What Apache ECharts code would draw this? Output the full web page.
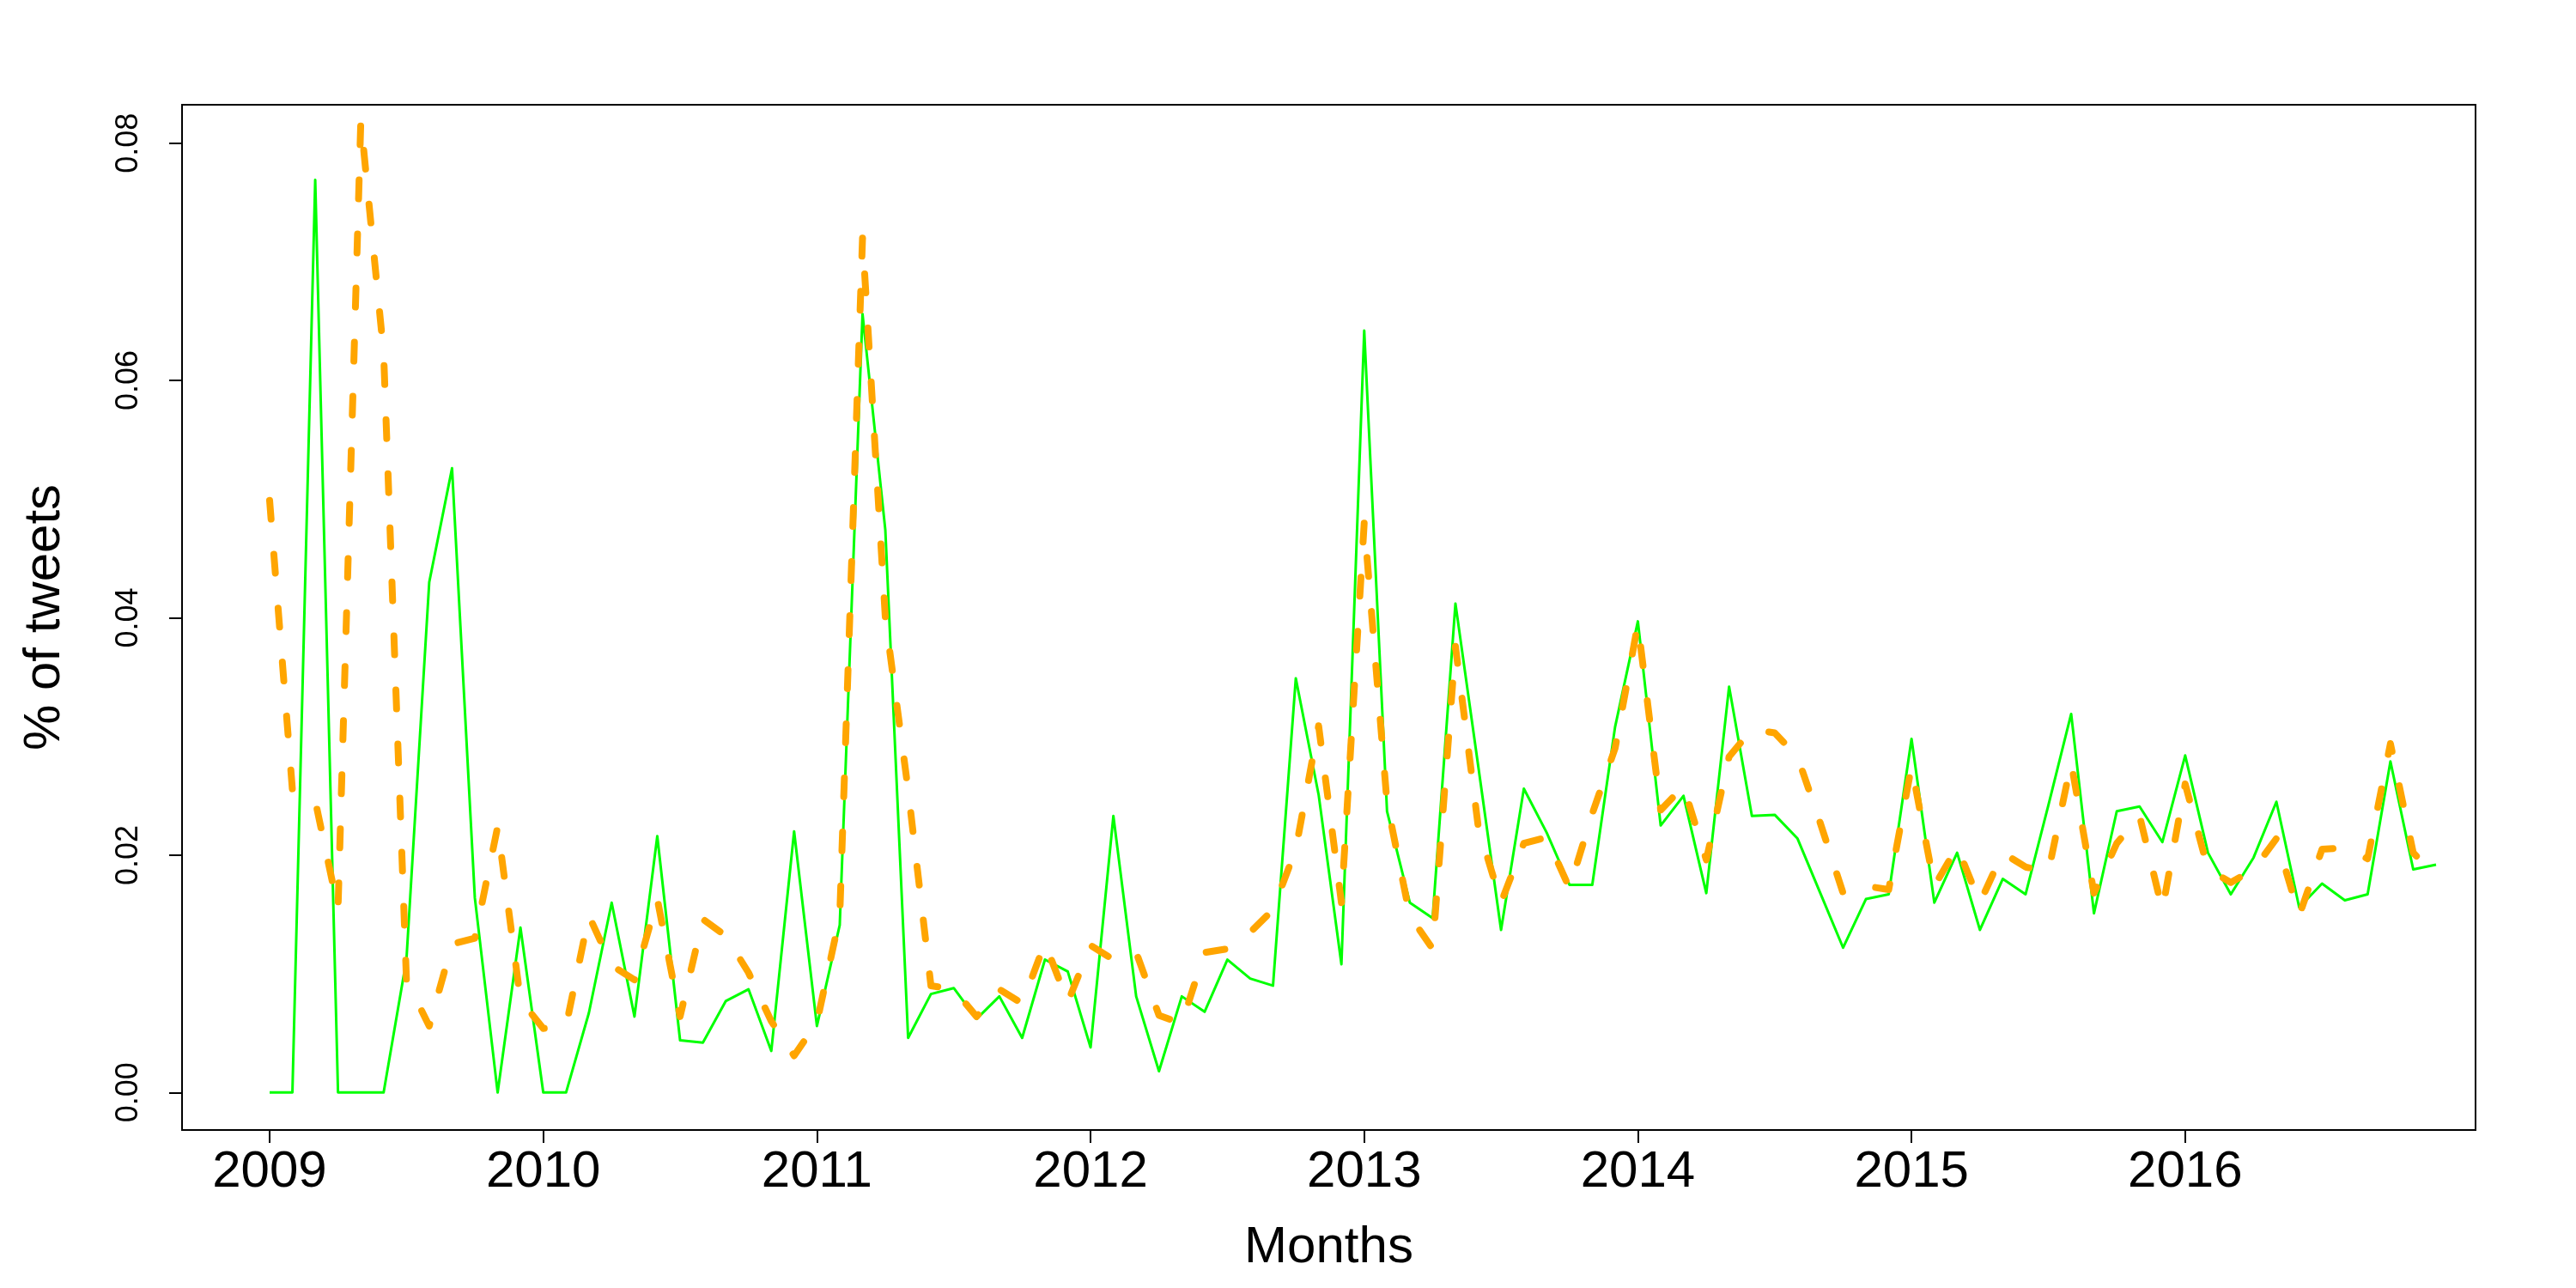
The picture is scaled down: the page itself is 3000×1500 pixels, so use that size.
<!DOCTYPE html>
<html>
<head>
<meta charset="utf-8">
<script src="https://cdn.jsdelivr.net/npm/echarts@6/dist/echarts.min.js"></script>
<style>
  html, body { margin: 0; padding: 0; background: #fff; }
  #main_echart { width: 3000px; height: 1500px; }
</style>
</head>
<body>
<div id="main_echart"></div>
<script>
// monthly values, Jan 2009 .. Dec 2016
var startYear = 2009;
var greenShare = [
    0, 0, 0.0769, 0, 0, 0, 0.0112, 0.0430, 0.0526, 0.0164, 0, 0.0139,
    0, 0, 0.0067, 0.0160, 0.0064, 0.0216, 0.0044, 0.0042, 0.0077, 0.0087, 0.0035, 0.0220,
    0.0056, 0.0141, 0.0656, 0.0474, 0.0046, 0.0083, 0.0088, 0.0062, 0.0081, 0.0046, 0.0112, 0.0102,
    0.0038, 0.0233, 0.0081, 0.0018, 0.0081, 0.0068, 0.0112, 0.0096, 0.0090, 0.0349, 0.0251, 0.0108,
    0.0642, 0.0237, 0.0160, 0.0147, 0.0412, 0.0275, 0.0137, 0.0256, 0.0219, 0.0175, 0.0175, 0.0308,
    0.0397, 0.0225, 0.0250, 0.0168, 0.0342, 0.0233, 0.0234, 0.0214, 0.0168, 0.0122, 0.0163, 0.0167,
    0.0298, 0.0160, 0.0202, 0.0137, 0.0180, 0.0167, 0.0242, 0.0319, 0.0151, 0.0237, 0.0241, 0.0211,
    0.0284, 0.0202, 0.0167, 0.0198, 0.0245, 0.0156, 0.0176, 0.0162, 0.0167, 0.0279, 0.0188, 0.0192
];
var orangeShare = [
    0.0499, 0.0255, 0.0246, 0.0155, 0.0819, 0.0623, 0.0095, 0.0056, 0.0125, 0.0130, 0.0224, 0.0078,
    0.0054, 0.0056, 0.0149, 0.0107, 0.0095, 0.0163, 0.0064, 0.0146, 0.0132, 0.0101, 0.0060, 0.0031,
    0.0059, 0.0148, 0.0720, 0.0400, 0.0255, 0.0090, 0.0087, 0.0064, 0.0087, 0.0075, 0.0126, 0.0076,
    0.0124, 0.0112, 0.0118, 0.0065, 0.0058, 0.0118, 0.0121, 0.0135, 0.0154, 0.0205, 0.0309, 0.0160,
    0.0480, 0.0244, 0.0149, 0.0121, 0.0376, 0.0224, 0.0160, 0.0210, 0.0215, 0.0172, 0.0235, 0.0290,
    0.0395, 0.0238, 0.0258, 0.0196, 0.0283, 0.0306, 0.0303, 0.0283, 0.0227, 0.0168, 0.0174, 0.0171,
    0.0275, 0.0174, 0.0207, 0.0160, 0.0202, 0.0190, 0.0186, 0.0278, 0.0168, 0.0210, 0.0233, 0.0154,
    0.0260, 0.0188, 0.0177, 0.0188, 0.0214, 0.0149, 0.0205, 0.0206, 0.0197, 0.0294, 0.0202, 0.0182
];
var yearTicks = [2009, 2010, 2011, 2012, 2013, 2014, 2015, 2016];
var yTicks = [0, 0.02, 0.04, 0.06, 0.08];

function toPoints(arr) {
    var pts = [];
    for (var i = 0; i < arr.length; i++) {
        pts.push([startYear + i / 12, arr[i]]);
    }
    return pts;
}

var myChart = echarts.init(document.getElementById('main_echart'));
var font = 'Liberation Sans, Arial, Helvetica, sans-serif';

var option = {
    animation: false,
    backgroundColor: '#ffffff',
    grid: {
        left: 212,
        right: 117,
        top: 122,
        bottom: 184,
        show: true,
        borderColor: '#000',
        borderWidth: 2,
        backgroundColor: 'transparent',
        outerBoundsMode: 'none'
    },
    xAxis: {
        type: 'value',
        min: 2008.68,
        max: 2017.061,
        name: 'Months',
        nameLocation: 'middle',
        nameGap: 107,
        nameTextStyle: {fontSize: 60, color: '#000', fontFamily: font},
        axisLine: {show: false, onZero: false},
        splitLine: {show: false},
        axisTick: {
            show: true,
            customValues: yearTicks,
            length: 15,
            lineStyle: {color: '#000', width: 2}
        },
        axisLabel: {
            customValues: yearTicks,
            fontSize: 60,
            margin: 19,
            color: '#000',
            fontFamily: font,
            formatter: function (v) { return String(v); }
        }
    },
    yAxis: {
        type: 'value',
        min: -0.00316,
        max: 0.08323,
        name: '% of tweets',
        nameLocation: 'middle',
        nameRotate: 90,
        nameGap: 130,
        nameTextStyle: {fontSize: 60, color: '#000', fontFamily: font},
        axisLine: {show: false, onZero: false},
        splitLine: {show: false},
        axisTick: {
            show: true,
            customValues: yTicks,
            length: 15,
            lineStyle: {color: '#000', width: 2}
        },
        axisLabel: {
            customValues: yTicks,
            rotate: 90,
            fontSize: 36,
            margin: 44,
            color: '#000',
            fontFamily: font,
            formatter: function (v) { return v.toFixed(2); }
        }
    },
    series: [
        {
            name: 'green',
            type: 'line',
            data: toPoints(greenShare),
            showSymbol: false,
            symbol: 'none',
            lineStyle: {color: '#00ff00', width: 3, join: 'round'}
        },
        {
            name: 'orange',
            type: 'line',
            data: toPoints(orangeShare),
            showSymbol: false,
            symbol: 'none',
            lineStyle: {color: '#ffa500', width: 8, type: [22, 41], cap: 'round', join: 'round'}
        }
    ]
};

myChart.setOption(option);
</script>
</body>
</html>
